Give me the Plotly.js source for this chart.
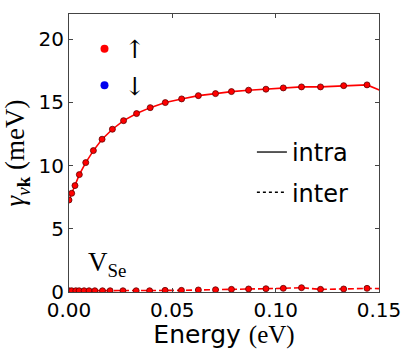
<!DOCTYPE html>
<html>
<head>
<meta charset="utf-8">
<script src="https://cdn.plot.ly/plotly-3.0.1.min.js"></script>
<style>
  html, body { margin: 0; padding: 0; background: #fff; }
  #plot { width: 407px; height: 349px; }
</style>
</head>
<body>
<div id="plot"></div>
<script>
// intra-valley scattering rate (solid)
const energyIntra = [0, 0.0013, 0.0029, 0.005, 0.0081, 0.0118, 0.016, 0.021, 0.0264, 0.0327,
    0.0393, 0.0466, 0.0545, 0.0626, 0.0709, 0.0786, 0.0869, 0.0953, 0.1037, 0.1125,
    0.1217, 0.1329, 0.1442, 0.1556];
const gammaIntra = [7.28, 7.81, 8.42, 9.29, 10.24, 11.19, 12.09, 12.88, 13.56, 14.12,
    14.59, 14.99, 15.28, 15.54, 15.7, 15.86, 15.97, 16.05, 16.15, 16.23,
    16.23, 16.33, 16.39, 15.6];

// inter-valley scattering rate (dashed)
const energyInter = [0, 0.0013, 0.0033, 0.0049, 0.0073, 0.0097, 0.0125, 0.0162, 0.0199, 0.0261,
    0.0325, 0.039, 0.0465, 0.0544, 0.0626, 0.0709, 0.0786, 0.0869, 0.0953, 0.1037,
    0.1125, 0.1217, 0.1329, 0.1442, 0.1556];
const gammaInter = [0.1, 0.1, 0.1, 0.1, 0.1, 0.1, 0.1, 0.1, 0.1, 0.1,
    0.1, 0.1, 0.13, 0.13, 0.16, 0.18, 0.21, 0.24, 0.26, 0.29,
    0.34, 0.21, 0.24, 0.29, 0.25];

const xTicks = [0, 0.05, 0.10, 0.15];
const yTicks = [0, 5, 10, 15, 20];
const spinLabels = ['\u2191', '\u2193'];
const spinColors = ['red', '#0000ee'];
const styleLabels = ['intra', 'inter'];

const red = '#ff0000';
const edge = '#600000';

const data = [
    {
        x: energyIntra, y: gammaIntra, type: 'scatter', mode: 'lines+markers',
        line: {color: red, width: 1.6},
        marker: {color: red, size: 6, line: {color: edge, width: 0.8}},
        showlegend: false, cliponaxis: true
    },
    {
        x: energyInter, y: gammaInter, type: 'scatter', mode: 'lines+markers',
        line: {color: red, width: 1.6, dash: '6px,3px'},
        marker: {color: red, size: 6, line: {color: edge, width: 0.8}},
        showlegend: false, cliponaxis: true
    }
];

// spin legend (markers only)
spinLabels.forEach((lab, i) => {
    data.push({
        x: [null], y: [null], type: 'scatter', mode: 'markers',
        name: lab, legend: 'legend', legendgroup: 's' + i,
        marker: {color: spinColors[i], size: 8}
    });
});
// line-style legend
styleLabels.forEach((lab, i) => {
    data.push({
        x: [null], y: [null], type: 'scatter', mode: 'lines',
        name: lab, legend: 'legend2', legendgroup: 'l' + i,
        line: {color: 'black', width: 1.3, dash: i === 0 ? 'solid' : '3px,3px'}
    });
});

const axisColor = '#444';
const layout = {
    width: 407, height: 349,
    margin: {l: 69, r: 28, t: 14, b: 57},
    paper_bgcolor: '#fff', plot_bgcolor: '#fff',
    font: {family: 'DejaVu Sans', size: 20, color: '#000'},
    showlegend: true,
    xaxis: {
        range: [0, 0.15], tickvals: xTicks, tickformat: '.2f',
        ticks: 'inside', ticklen: 4, tickcolor: axisColor,
        showline: true, linecolor: axisColor, linewidth: 1, mirror: 'ticks',
        showgrid: false, zeroline: false,
        tickfont: {size: 20},
        title: {
            text: 'Energy <span style="font-family:Liberation Serif">(eV)</span>',
            font: {size: 25}, standoff: 0
        }
    },
    yaxis: {
        range: [0, 22], tickvals: yTicks,
        ticks: 'inside', ticklen: 4, tickcolor: axisColor,
        showline: true, linecolor: axisColor, linewidth: 1, mirror: 'ticks',
        showgrid: false, zeroline: false,
        tickfont: {size: 20},
        title: {
            text: '<i>\u03b3</i><sub><i>v</i><b>k</b></sub> (meV)',
            font: {family: 'Liberation Serif', size: 27}, standoff: 6
        }
    },
    legend: {
        x: 0.05, y: 0.957, xanchor: 'left', yanchor: 'top',
        bgcolor: 'rgba(0,0,0,0)', borderwidth: 0,
        font: {family: 'DejaVu Serif', size: 25},
        tracegroupgap: 1, traceorder: 'grouped'
    },
    legend2: {
        x: 0.59, y: 0.583, xanchor: 'left', yanchor: 'top',
        bgcolor: 'rgba(0,0,0,0)', borderwidth: 0,
        font: {family: 'DejaVu Sans', size: 24},
        tracegroupgap: 6, traceorder: 'grouped'
    },
    annotations: [{
        xref: 'paper', yref: 'paper', x: 0.055, y: 0.032,
        xanchor: 'left', yanchor: 'bottom', showarrow: false,
        text: 'V<sub>Se</sub>',
        font: {family: 'Liberation Serif', size: 27, color: '#000'}
    }]
};

Plotly.newPlot('plot', data, layout, {displayModeBar: false, staticPlot: true});
</script>
</body>
</html>
